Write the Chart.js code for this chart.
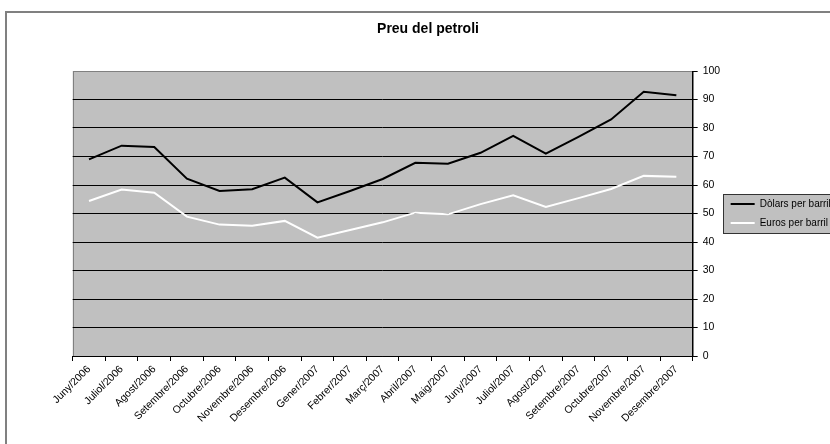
<!DOCTYPE html>
<html><head><meta charset="utf-8">
<script src="https://cdn.jsdelivr.net/npm/chart.js@4.4.1/dist/chart.umd.min.js"></script>
<style>
html,body{margin:0;padding:0;overflow:hidden;background:#fff;width:830px;height:444px;}
#frame{position:absolute;left:5px;top:11px;width:900px;height:500px;border-left:2px solid #808080;border-top:2px solid #808080;box-sizing:border-box;}
canvas{position:absolute;left:0;top:0;}
</style></head><body>
<div id="frame"></div>
<canvas id="c" width="850" height="444"></canvas>
<script>
const categories = ['Juny/2006','Juliol/2006','Agost/2006','Setembre/2006','Octubre/2006','Novembre/2006','Desembre/2006','Gener/2007','Febrer/2007','Març/2007','Abril/2007','Maig/2007','Juny/2007','Juliol/2007','Agost/2007','Setembre/2007','Octubre/2007','Novembre/2007','Desembre/2007'];
const dollars = [69.0, 73.8, 73.3, 62.2, 57.9, 58.5, 62.6, 53.9, 57.9, 62.1, 67.8, 67.5, 71.3, 77.2, 71.0, 76.9, 83.0, 92.7, 91.5];
const euros = [54.4, 58.4, 57.3, 48.9, 46.1, 45.7, 47.4, 41.5, 44.2, 46.9, 50.3, 49.7, 53.3, 56.4, 52.3, 55.4, 58.6, 63.2, 62.9];
const yTicks = [0,10,20,30,40,50,60,70,80,90,100];
const seriesNames = ['Dòlars per barril','Euros per barril'];
const titleText = 'Preu del petroli';

const FAM = '"Liberation Sans", Arial, sans-serif';
Chart.defaults.font.family = FAM;
Chart.defaults.color = '#000';

const bgPlugin = {
  id: 'bgPlugin',
  beforeDraw(chart) {
    const {ctx, chartArea: a} = chart;
    ctx.save();
    ctx.fillStyle = '#c0c0c0';
    ctx.fillRect(a.left, a.top, a.right - a.left, a.bottom - a.top);
    ctx.strokeStyle = '#808080';
    ctx.lineWidth = 1;
    ctx.strokeRect(Math.round(a.left) + 0.5, Math.round(a.top) + 0.5, Math.round(a.right - a.left), Math.round(a.bottom - a.top));
    const lg = chart.legend;
    if (lg && lg.legendHitBoxes && lg.legendHitBoxes.length) {
      const hb = lg.legendHitBoxes;
      const x = Math.round(hb[0].left - 8), y = Math.round(hb[0].top - 5);
      const last = hb[hb.length - 1];
      const yb = Math.round(last.top + last.height + 5);
      ctx.fillStyle = '#c0c0c0';
      ctx.fillRect(x, y, 300, yb - y);
      ctx.strokeStyle = '#333';
      ctx.strokeRect(x + 0.5, y + 0.5, 300, yb - y);
    }
    ctx.restore();
  }
};

new Chart(document.getElementById('c'), {
  type: 'line',
  data: {
    labels: categories,
    datasets: [
      {label: seriesNames[0], data: dollars, borderColor: '#000', backgroundColor: '#000', borderWidth: 2, pointRadius: 0, tension: 0, yAxisID: 'y'},
      {label: seriesNames[1], data: euros, borderColor: '#fff', backgroundColor: '#fff', borderWidth: 2, pointRadius: 0, tension: 0, yAxisID: 'y'}
    ]
  },
  options: {
    responsive: false,
    animation: false,
    layout: {padding: {top: 10, left: 15.2, right: 9.2, bottom: 0}},
    plugins: {
      title: {display: true, text: titleText, color: '#000', font: {size: 14, weight: 'bold', family: FAM}, padding: {top: 10.6, bottom: 33.6}},
      legend: {
        position: 'right', align: 'center', fullSize: false,
        labels: {usePointStyle: true, pointStyle: 'line', pointStyleWidth: 24, boxHeight: 10, padding: 9, color: '#000', font: {size: 10, family: FAM}}
      },
      tooltip: {enabled: false}
    },
    scales: {
      x: {
        type: 'category', offset: true,
        grid: {offset: true, drawOnChartArea: false, drawTicks: true, tickLength: 5, color: '#000'},
        border: {color: '#000', width: 1},
        ticks: {autoSkip: false, minRotation: 45, maxRotation: 45, color: '#000', font: {size: 10.5, family: FAM}, padding: 2},
        afterFit(s) { s.height = 88; }
      },
      y: {
        position: 'right', min: 0, max: 100,
        afterBuildTicks(s) { s.ticks = yTicks.map(v => ({value: v})); },
        ticks: {color: '#000', font: {size: 10.5, family: FAM}, padding: 5},
        grid: {color: c => (c.tick && c.tick.value === 100) ? 'rgba(0,0,0,0)' : '#000', tickColor: '#000', tickLength: 5, lineWidth: 1},
        border: {color: '#000', width: 1},
        afterFit(s) { s.width = 29; }
      },
      yL: {
        position: 'left', display: true,
        grid: {display: false, drawTicks: false},
        border: {display: false},
        ticks: {display: false},
        afterFit(s) { s.width = 57.5; }
      }
    }
  },
  plugins: [bgPlugin]
});
</script>
</body></html>
